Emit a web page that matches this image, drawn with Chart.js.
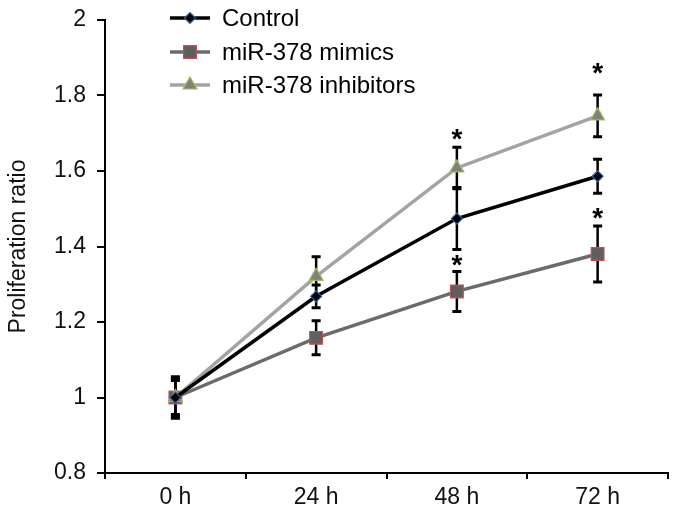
<!DOCTYPE html>
<html>
<head>
<meta charset="utf-8">
<script src="https://cdn.jsdelivr.net/npm/chart.js@4/dist/chart.umd.min.js"></script>
<style>
  html, body { margin: 0; padding: 0; background: #fff; }
  #wrap { width: 679px; height: 520px; }
</style>
</head>
<body>
<div id="wrap"><canvas id="chart" width="679" height="520"></canvas></div>
<script>
// data
const categories = ["0 h", "24 h", "48 h", "72 h"];
const seriesNames = ["Control", "miR-378 mimics", "miR-378 inhibitors"];
const controlVals = [1.0, 1.268, 1.474, 1.586];
const mimicsVals = [1.0, 1.158, 1.281, 1.38];
const inhibVals = [1.0, 1.321, 1.608, 1.746];
const controlErr = [0.055, 0.03, 0.082, 0.045];
const mimicsErr = [0.05, 0.045, 0.053, 0.074];
const inhibErr = [0.045, 0.052, 0.055, 0.055];
const yTickVals = [0.8, 1, 1.2, 1.4, 1.6, 1.8, 2];
// significance marks: [series, category, y value]
const stars = [[2, 2, 1.69], [1, 2, 1.357], [2, 3, 1.864], [1, 3, 1.48]];

const FONT = "'Liberation Sans', Arial, sans-serif";

const errorBars = {
  id: "errorBars",
  beforeDatasetsDraw(chart) {
    const ctx = chart.ctx;
    const y = chart.scales.y;
    ctx.save();
    ctx.strokeStyle = "#000";
    chart.data.datasets.forEach((ds, i) => {
      const meta = chart.getDatasetMeta(i);
      meta.data.forEach((pt, j) => {
        const v = ds.data[j], e = ds.errors[j];
        const top = y.getPixelForValue(v + e);
        const bot = y.getPixelForValue(v - e);
        ctx.lineWidth = 2.5;
        ctx.beginPath();
        ctx.moveTo(pt.x, top);
        ctx.lineTo(pt.x, bot);
        ctx.stroke();
        ctx.lineWidth = 3;
        ctx.beginPath();
        ctx.moveTo(pt.x - 4.5, top);
        ctx.lineTo(pt.x + 4.5, top);
        ctx.moveTo(pt.x - 4.5, bot);
        ctx.lineTo(pt.x + 4.5, bot);
        ctx.stroke();
      });
    });
    ctx.restore();
  }
};

const starMarks = {
  id: "starMarks",
  afterDatasetsDraw(chart) {
    const ctx = chart.ctx;
    const y = chart.scales.y;
    ctx.save();
    ctx.fillStyle = "#000";
    ctx.font = "bold 28px " + FONT;
    ctx.textAlign = "center";
    ctx.textBaseline = "alphabetic";
    stars.forEach(([s, c, v]) => {
      const pt = chart.getDatasetMeta(s).data[c];
      ctx.fillText("*", pt.x, y.getPixelForValue(v) + 11);
    });
    ctx.restore();
  }
};

const lineLegend = {
  id: "lineLegend",
  afterDraw(chart) {
    const ctx = chart.ctx;
    const rows = [18, 52, 85];
    ctx.save();
    chart.data.datasets.forEach((ds, i) => {
      const yy = rows[i];
      ctx.strokeStyle = ds.borderColor;
      ctx.lineWidth = ds.borderWidth;
      ctx.beginPath();
      ctx.moveTo(170, yy);
      ctx.lineTo(210, yy);
      ctx.stroke();
      ctx.fillStyle = ds.pointBackgroundColor;
      ctx.strokeStyle = ds.pointBorderColor;
      ctx.lineWidth = ds.pointBorderWidth;
      Chart.helpers.drawPoint(ctx, {
        pointStyle: ds.pointStyle, radius: ds.pointRadius, rotation: 0, borderWidth: ds.pointBorderWidth
      }, 190, yy);
      ctx.fillStyle = "#000";
      ctx.font = "24px " + FONT;
      ctx.textAlign = "left";
      ctx.textBaseline = "middle";
      ctx.fillText(ds.label, 222, yy + 1);
    });
    ctx.restore();
  }
};

new Chart(document.getElementById("chart"), {
  type: "line",
  data: {
    labels: categories,
    datasets: [
      {
        label: seriesNames[0],
        data: controlVals,
        errors: controlErr,
        borderColor: "#000000",
        borderWidth: 3.5,
        pointStyle: "rectRot",
        pointRadius: 5.5,
        pointBackgroundColor: "#000000",
        pointBorderColor: "#2e5f9e",
        pointBorderWidth: 1.2,
        order: 1
      },
      {
        label: seriesNames[1],
        data: mimicsVals,
        errors: mimicsErr,
        borderColor: "#6b6b6b",
        borderWidth: 3.5,
        pointStyle: "rect",
        pointRadius: 9,
        pointBackgroundColor: "#5f5f5f",
        pointBorderColor: "#c0504d",
        pointBorderWidth: 1.2,
        order: 3
      },
      {
        label: seriesNames[2],
        data: inhibVals,
        errors: inhibErr,
        borderColor: "#a3a3a3",
        borderWidth: 3.5,
        pointStyle: "triangle",
        pointRadius: 8,
        pointBackgroundColor: "#808080",
        pointBorderColor: "#9bbb59",
        pointBorderWidth: 1.2,
        order: 2
      }
    ]
  },
  options: {
    responsive: false,
    animation: false,
    layout: { padding: { left: 0, right: 11, top: 20, bottom: 0 } },
    plugins: {
      legend: { display: false },
      tooltip: { enabled: false }
    },
    elements: { line: { tension: 0 } },
    scales: {
      x: {
        type: "category",
        offset: true,
        grid: {
          offset: true,
          drawOnChartArea: false,
          drawTicks: true,
          tickLength: 6,
          color: "#000",
          lineWidth: 2
        },
        border: { display: true, color: "#000", width: 2 },
        ticks: {
          color: "#111",
          font: { family: FONT, size: 23 },
          padding: 5,
          maxRotation: 0
        },
        afterFit(scale) {
          scale.height = 47;
          scale.paddingLeft = 0;
          scale.paddingRight = 0;
        }
      },
      y: {
        min: 0.8,
        max: 2,
        afterBuildTicks(scale) { scale.ticks = yTickVals.map(v => ({ value: v })); },
        grid: {
          drawOnChartArea: false,
          drawTicks: true,
          tickLength: 8,
          color: "#000",
          lineWidth: 2
        },
        border: { display: true, color: "#000", width: 2 },
        ticks: {
          color: "#111",
          font: { family: FONT, size: 23 },
          padding: 11,
          callback: v => String(parseFloat(Number(v).toFixed(1)))
        },
        title: {
          display: true,
          text: "Proliferation ratio",
          color: "#111",
          font: { family: FONT, size: 23 },
          padding: { top: 5, bottom: 0 }
        },
        afterFit(scale) {
          scale.width = 105;
          scale.paddingTop = 0;
          scale.paddingBottom = 0;
        }
      }
    }
  },
  plugins: [errorBars, starMarks, lineLegend]
});
</script>
</body>
</html>
